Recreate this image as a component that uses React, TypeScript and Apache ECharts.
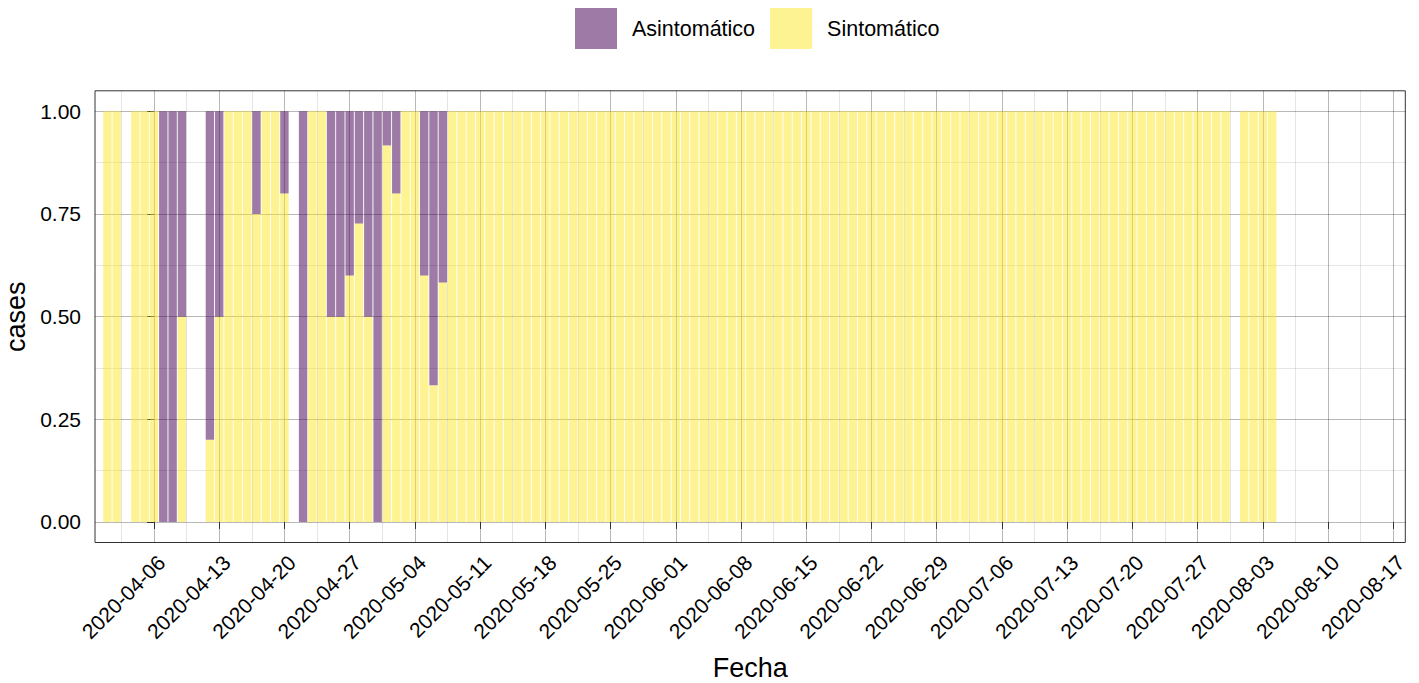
import React, { useEffect, useRef } from "react";
import * as echarts from "echarts";

// ---- data ----
const aprDays = [1, 2, 4, 5, 6, 7, 8, 9, 12, 13, 14, 15, 16, 17, 18, 19, 20, 22, 23, 24, 25, 26, 27, 28, 29, 30];
const aprAsym = [0, 0, 0, 0, 0, 1, 1, 0.5, 0.8, 0.5, 0, 0, 0, 0.25, 0, 0, 0.2, 1, 0, 0, 0.5, 0.5, 0.4, 0.273, 0.5, 1];
const mayDays = [1, 2, 3, 4, 5, 6, 7, 8, 9, 10, 11, 12, 13, 14, 15, 16, 17, 18, 19, 20, 21, 22, 23, 24, 25, 26, 27, 28, 29, 30, 31];
const mayAsym = [0.083, 0.2, 0, 0, 0.4, 0.667, 0.417, 0, 0, 0, 0, 0, 0, 0, 0, 0, 0, 0, 0, 0, 0, 0, 0, 0, 0, 0, 0, 0, 0, 0, 0];
const junDays = [1, 2, 3, 4, 5, 6, 7, 8, 9, 10, 11, 12, 13, 14, 15, 16, 17, 18, 19, 20, 21, 22, 23, 24, 25, 26, 27, 28, 29, 30];
const junAsym = [0, 0, 0, 0, 0, 0, 0, 0, 0, 0, 0, 0, 0, 0, 0, 0, 0, 0, 0, 0, 0, 0, 0, 0, 0, 0, 0, 0, 0, 0];
const julDays = [1, 2, 3, 4, 5, 6, 7, 8, 9, 10, 11, 12, 13, 14, 15, 16, 17, 18, 19, 20, 21, 22, 23, 24, 25, 26, 27, 28, 29, 30];
const julAsym = [0, 0, 0, 0, 0, 0, 0, 0, 0, 0, 0, 0, 0, 0, 0, 0, 0, 0, 0, 0, 0, 0, 0, 0, 0, 0, 0, 0, 0, 0];
const augDays = [1, 2, 3, 4];
const augAsym = [0, 0, 0, 0];

const xTickLabels = [
  "2020-04-06", "2020-04-13", "2020-04-20", "2020-04-27", "2020-05-04", "2020-05-11",
  "2020-05-18", "2020-05-25", "2020-06-01", "2020-06-08", "2020-06-15", "2020-06-22",
  "2020-06-29", "2020-07-06", "2020-07-13", "2020-07-20", "2020-07-27", "2020-08-03",
  "2020-08-10", "2020-08-17",
];
const yTicks = [0, 0.25, 0.5, 0.75, 1];
const yMinorTicks = [0.125, 0.375, 0.625, 0.875];

const DAY = 86400000;
const ORIGIN = Date.UTC(2020, 3, 6);
const toX = (iso: string) => {
  const [y, m, d] = iso.split("-").map(Number);
  return (Date.UTC(y, m - 1, d) - ORIGIN) / DAY;
};
const fmt = (v: number) => new Date(ORIGIN + Math.round(v) * DAY).toISOString().slice(0, 10);

const months: [string, number[], number[]][] = [
  ["04", aprDays, aprAsym],
  ["05", mayDays, mayAsym],
  ["06", junDays, junAsym],
  ["07", julDays, julAsym],
  ["08", augDays, augAsym],
];
const dates: string[] = [];
const asym: number[] = [];
months.forEach(([m, days, vals]) => {
  days.forEach((d, i) => {
    dates.push(`2020-${m}-${String(d).padStart(2, "0")}`);
    asym.push(vals[i]);
  });
});
const xs = dates.map(toX);
const majorX = xTickLabels.map(toX);
const minorX = [-3.5, ...majorX.slice(0, -1).map((v) => v + 3.5)];

const FONT = "'Liberation Sans', Arial, Helvetica, sans-serif";

export default function App() {
  const ref = useRef<HTMLDivElement>(null);
  useEffect(() => {
    if (!ref.current) return;
    const chart = echarts.init(ref.current, undefined, { renderer: "svg" });
    const X_MIN = -6.33;
    const X_MAX = 134.29;
    chart.setOption({
      animation: false,
      textStyle: { fontFamily: FONT },
      legend: {
        data: ["Asintomático", "Sintomático"],
        left: 575,
        top: 8,
        padding: 0,
        itemWidth: 42,
        itemHeight: 41,
        itemGap: 15,
        icon: "rect",
        textStyle: { fontSize: 21.5, color: "#000", fontFamily: FONT, padding: [0, 0, 0, 10] },
      },
      grid: {
        left: 95,
        right: 13.7,
        top: 90.8,
        bottom: 140.5,
        show: true,
        borderColor: "#333",
        borderWidth: 1,
        containLabel: false,
        outerBoundsMode: "none",
      },
      xAxis: [
        {
          type: "value",
          min: X_MIN,
          max: X_MAX,
          name: "Fecha",
          nameLocation: "middle",
          nameGap: 112,
          nameTextStyle: { fontSize: 27, color: "#000", fontFamily: FONT },
          axisLine: { show: false },
          axisTick: { show: true, length: 7, customValues: majorX, lineStyle: { color: "#333" } },
          axisLabel: {
            customValues: majorX,
            rotate: 45,
            fontSize: 21,
            color: "#000",
            margin: 9,
            verticalAlign: "top",
            formatter: (v: number) => fmt(v),
          },
          splitLine: { show: true, lineStyle: { color: "rgba(0,0,0,0.28)", width: 1 } },
        },
        {
          type: "value",
          min: X_MIN,
          max: X_MAX,
          position: "bottom",
          axisLine: { show: false },
          axisTick: { show: false, customValues: minorX },
          axisLabel: { show: false, customValues: minorX },
          splitLine: { show: true, lineStyle: { color: "rgba(0,0,0,0.1)", width: 1 } },
        },
      ],
      yAxis: [
        {
          type: "value",
          min: -0.05,
          max: 1.05,
          name: "cases",
          nameLocation: "middle",
          nameGap: 63,
          nameTextStyle: { fontSize: 27, color: "#000", fontFamily: FONT },
          axisLine: { show: false },
          axisTick: { show: true, length: 7, customValues: yTicks, lineStyle: { color: "#333" } },
          axisLabel: {
            customValues: yTicks,
            fontSize: 21,
            color: "#000",
            margin: 14,
            formatter: (v: number) => v.toFixed(2),
          },
          splitLine: { show: true, lineStyle: { color: "rgba(0,0,0,0.28)", width: 1 } },
        },
        {
          type: "value",
          min: -0.05,
          max: 1.05,
          position: "left",
          axisLine: { show: false },
          axisTick: { show: false, customValues: yMinorTicks },
          axisLabel: { show: false, customValues: yMinorTicks },
          splitLine: { show: true, lineStyle: { color: "rgba(0,0,0,0.1)", width: 1 } },
        },
      ],
      series: [
        {
          name: "Sintomático",
          type: "bar",
          stack: "fill",
          xAxisIndex: 0,
          yAxisIndex: 0,
          barWidth: 8.4,
          encode: { x: 1, y: 0 },
          itemStyle: { color: "rgba(253,231,37,0.5)" },
          data: xs.map((x, i) => [1 - asym[i], x]),
        },
        {
          name: "Asintomático",
          type: "bar",
          stack: "fill",
          xAxisIndex: 0,
          yAxisIndex: 0,
          barWidth: 8.4,
          encode: { x: 1, y: 0 },
          itemStyle: { color: "rgba(68,1,84,0.52)" },
          data: xs.map((x, i) => [asym[i], x]),
        },
      ],
    });
    return () => chart.dispose();
  }, []);
  return <div ref={ref} style={{ width: 1419, height: 683, position: "absolute", left: 0, top: 0 }} />;
}
